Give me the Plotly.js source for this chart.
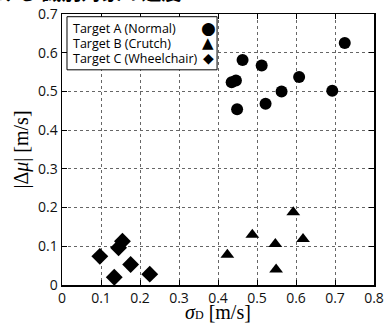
<!DOCTYPE html>
<html>
<head>
<meta charset="utf-8">
<script src="https://cdn.plot.ly/plotly-3.0.1.min.js"></script>
<style>html,body{margin:0;padding:0;background:#fff;}#chart{width:392px;height:323px;}</style>
</head>
<body>
<div id="chart"></div>
<script>
// Data
const seriesNames = ["Target A (Normal)", "Target B (Crutch)", "Target C (Wheelchair)"];
const aSigma = [0.463, 0.512, 0.725, 0.435, 0.446, 0.449, 0.522, 0.563, 0.608, 0.693];
const aDmu   = [0.581, 0.567, 0.625, 0.524, 0.528, 0.454, 0.468, 0.500, 0.537, 0.502];
const bSigma = [0.593, 0.488, 0.618, 0.547, 0.424, 0.549];
const bDmu   = [0.188, 0.130, 0.119, 0.106, 0.078, 0.040];
const cSigma = [0.155, 0.145, 0.097, 0.176, 0.134, 0.225];
const cDmu   = [0.113, 0.096, 0.074, 0.053, 0.020, 0.028];
const xTicks = [0, 0.1, 0.2, 0.3, 0.4, 0.5, 0.6, 0.7, 0.8];
const yTicks = [0, 0.1, 0.2, 0.3, 0.4, 0.5, 0.6, 0.7];
const headerText = "ける 識別対象の速度";

const symbols = ["circle", "triangle-up", "diamond"];
const glyphs = ["●", "▲", "◆"];
const xs = [aSigma, bSigma, cSigma];
const ys = [aDmu, bDmu, cDmu];
const sizes = [12, 12, 13];

const traces = xs.map((x, i) => ({
  type: "scatter", mode: "markers", name: seriesNames[i],
  x: x, y: ys[i], showlegend: false, cliponaxis: false,
  marker: {symbol: symbols[i], size: sizes[i], color: "#000", line: {width: 0}}
}));

const tickFont = {family: "Open Sans, sans-serif", size: 14, color: "#111"};
const axisCommon = {
  showline: true, linecolor: "#000", linewidth: 1.5, mirror: "ticks",
  ticks: "inside", ticklen: 5, tickwidth: 1, tickcolor: "#000",
  showgrid: true, gridcolor: "#666", gridwidth: 1, griddash: "dot",
  zeroline: false, tickfont: tickFont, fixedrange: true
};

const annotations = [];
// legend text + glyphs
const rowY = [0.947, 0.892, 0.836];
const glyphSizes = [17, 15, 14];
seriesNames.forEach((n, i) => {
  annotations.push({xref: "paper", yref: "paper", x: 0.03, y: rowY[i], xanchor: "left", yanchor: "middle",
    text: n, showarrow: false, font: {family: "Open Sans, sans-serif", size: 12.5, color: "#000"}});
  annotations.push({xref: "paper", yref: "paper", x: 0.469, y: rowY[i], xanchor: "center", yanchor: "middle",
    text: glyphs[i], showarrow: false, font: {family: "DejaVu Sans, sans-serif", size: glyphSizes[i], color: "#000"}});
});
annotations.push({xref: "paper", yref: "paper", x: -0.215, y: 1, xanchor: "left", yanchor: "bottom", yshift: 6,
  text: "<b>" + headerText + "</b>", showarrow: false, font: {family: "Noto Sans CJK JP", size: 20, color: "#000"}});

const layout = {
  width: 392, height: 323,
  margin: {l: 62, r: 18, t: 14, b: 38, pad: 0},
  paper_bgcolor: "#fff", plot_bgcolor: "#fff",
  showlegend: false,
  xaxis: Object.assign({}, axisCommon, {
    range: [0, 0.8], tickvals: xTicks, ticktext: xTicks.map(String),
    title: {text: "<i>σ</i><span style='font-size:12px'>D</span> [m/s]", font: {family: "Liberation Serif, serif", size: 20, color: "#000"}, standoff: 0}
  }),
  yaxis: Object.assign({}, axisCommon, {
    range: [0, 0.7], tickvals: yTicks, ticktext: yTicks.map(String),
    title: {text: "|Δ<i>μ</i>| [m/s]", font: {family: "Liberation Serif, serif", size: 20, color: "#000"}, standoff: 4}
  }),
  shapes: [{type: "rect", xref: "paper", yref: "paper", x0: 0.016, x1: 0.497, y0: 0.794, y1: 0.99,
    line: {color: "#000", width: 1}, fillcolor: "#fff", layer: "above"}],
  annotations: annotations
};

Plotly.newPlot("chart", traces, layout, {displayModeBar: false, staticPlot: true});
</script>
</body>
</html>
